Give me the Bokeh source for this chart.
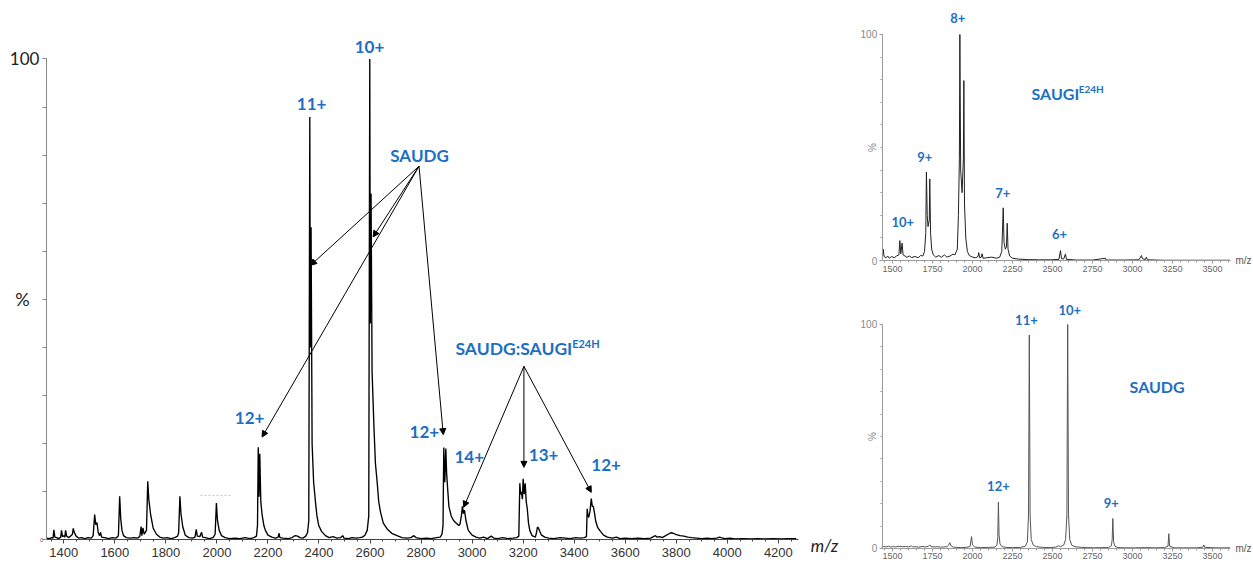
import math
from bokeh.plotting import figure
from bokeh.models import (Range1d, FixedTicker, LabelSet, Label, ColumnDataSource,
                          Arrow, NormalHead)
from bokeh.layouts import row, column
from bokeh.core.properties import value
from bokeh.embed import file_html
from bokeh.resources import INLINE

BLUE = "#1D6FC3"

# ---------------- main spectrum: SAUDG + SAUGI(E24H) mixture ----------------
main_mz = [1334, 1345, 1352, 1358, 1361, 1365, 1372, 1380, 1388, 1391, 1395, 1400, 1404, 1407, 1411,
           1420, 1428, 1434, 1437, 1441, 1448, 1458, 1470, 1482, 1495, 1508, 1515, 1521, 1525, 1530,
           1535, 1540, 1544, 1548, 1560, 1575, 1590, 1605, 1614, 1619, 1623, 1628, 1634, 1645, 1660,
           1675, 1690, 1698, 1703, 1706, 1710, 1715, 1724, 1729, 1733, 1740, 1750, 1763, 1776, 1790,
           1805, 1820, 1835, 1846, 1850, 1855, 1859, 1866, 1876, 1890, 1905, 1914, 1919, 1923, 1933,
           1940, 1944, 1955, 1970, 1985, 1993, 1998, 2002, 2009, 2018, 2032, 2050, 2070, 2090, 2110,
           2130, 2145, 2155, 2159, 2162, 2165, 2168, 2172, 2177, 2184, 2190, 2200, 2215, 2230, 2240,
           2243, 2247, 2260, 2280, 2295, 2302, 2308, 2316, 2325, 2338, 2348, 2355, 2360, 2364, 2366,
           2369, 2373, 2379, 2386, 2392, 2399, 2410, 2425, 2440, 2455, 2470, 2485, 2493, 2498, 2515,
           2530, 2545, 2560, 2570, 2580, 2589, 2595, 2599, 2601, 2604, 2608, 2615, 2621, 2628, 2634,
           2641, 2652, 2667, 2685, 2706, 2725, 2745, 2760, 2772, 2780, 2800, 2820, 2840, 2860, 2875,
           2882, 2886, 2889, 2893, 2897, 2900, 2905, 2909, 2918, 2928, 2938, 2948, 2952, 2958, 2962,
           2966, 2970, 2976, 2985, 3000, 3015, 3030, 3045, 3060, 3075, 3085, 3100, 3120, 3140, 3160,
           3175, 3183, 3187, 3190, 3193, 3197, 3200, 3204, 3208, 3212, 3216, 3221, 3226, 3235, 3248,
           3252, 3256, 3260, 3265, 3272, 3285, 3300, 3320, 3345, 3365, 3385, 3405, 3425, 3440, 3448,
           3451, 3454, 3457, 3462, 3467, 3471, 3475, 3480, 3484, 3492, 3503, 3515, 3530, 3550, 3565,
           3580, 3600, 3625, 3650, 3675, 3700, 3718, 3725, 3735, 3745, 3755, 3768, 3778, 3788, 3800,
           3815, 3830, 3845, 3860, 3880, 3900, 3920, 3940, 3958, 3970, 3975, 3990, 4010, 4030, 4060,
           4090, 4120, 4150, 4180, 4210, 4240, 4270]
main_pct = [0.4, 0.3, 0.5, 0.4, 2.1, 0.6, 0.5, 0.3, 0.6, 2.0, 0.7, 0.9, 0.6, 2.0, 0.8,
            0.5, 0.9, 1.2, 2.4, 1.6, 0.8, 0.4, 0.5, 0.3, 0.5, 0.4, 0.9, 5.3, 3.2, 3.6,
            1.5, 0.9, 1.6, 0.6, 0.5, 0.3, 0.5, 0.4, 0.9, 9.1, 4.5, 2.0, 0.9, 0.5, 0.4,
            0.5, 0.4, 0.8, 2.8, 0.9, 2.5, 1.2, 2.0, 12.2, 8.5, 5.4, 2.5, 1.2, 0.6, 0.4,
            0.5, 0.3, 0.5, 0.8, 1.5, 9.1, 5.5, 2.8, 1.0, 0.5, 0.4, 0.6, 2.2, 0.8, 0.7,
            1.6, 0.6, 0.5, 0.3, 0.5, 1.2, 7.7, 4.2, 2.0, 0.9, 0.5, 0.3, 0.4, 0.3, 0.5,
            0.3, 0.5, 0.8, 3.0, 19.3, 9.0, 17.9, 8.0, 5.3, 3.0, 2.0, 1.0, 0.6, 0.4, 0.6,
            1.4, 0.5, 0.4, 0.3, 0.5, 0.8, 0.9, 0.8, 0.5, 0.4, 0.8, 1.5, 4.0, 87.9, 40.0,
            65.0, 20.0, 12.0, 8.0, 5.0, 3.0, 1.8, 0.9, 0.5, 0.7, 0.4, 0.5, 0.9, 0.4, 0.3,
            0.5, 0.4, 0.5, 0.6, 1.0, 2.0, 5.0, 100.0, 45.0, 72.0, 35.0, 24.0, 16.0, 12.0, 8.0,
            5.8, 3.5, 2.3, 1.4, 0.9, 0.5, 0.4, 0.5, 0.9, 0.5, 0.3, 0.4, 0.3, 0.5, 0.6,
            1.2, 3.0, 19.2, 12.0, 19.0, 14.0, 10.0, 7.0, 5.0, 4.0, 3.5, 3.0, 3.2, 5.0, 7.0,
            5.5, 6.2, 4.0, 2.0, 1.0, 0.6, 0.4, 0.6, 0.3, 0.8, 0.4, 0.3, 0.5, 0.3, 0.4,
            0.5, 0.8, 11.8, 9.5, 10.0, 8.5, 12.7, 9.5, 11.8, 8.0, 6.6, 3.5, 2.0, 0.9, 0.6,
            1.5, 2.7, 2.5, 1.8, 1.0, 0.6, 0.4, 0.3, 0.5, 0.4, 0.3, 0.5, 0.4, 0.5, 0.7,
            6.5, 5.0, 4.7, 6.0, 8.6, 7.0, 7.0, 5.5, 4.0, 2.6, 1.8, 1.0, 0.6, 0.4, 0.6,
            0.3, 0.4, 0.3, 0.4, 0.3, 0.4, 0.9, 0.6, 0.7, 0.5, 0.8, 1.2, 1.5, 1.4, 1.1,
            0.9, 0.8, 0.6, 0.5, 0.4, 0.3, 0.4, 0.3, 0.4, 0.6, 0.5, 0.3, 0.4, 0.2, 0.3,
            0.2, 0.3, 0.2, 0.3, 0.2, 0.3, 0.3]

main_xticks = list(range(1400, 4201, 200))
main_label_text = ["10+", "11+", "SAUDG", "12+", "12+", "14+", "13+", "12+"]
main_label_mz = [2598, 2371, 2794, 2128, 2813, 2989, 3280, 3525]
main_label_pct = [102.4, 90.7, 79.9, 25.3, 22.4, 17.2, 17.7, 15.5]

complex_text = ["SAUDG:SAUGI"]
complex_mz = [2935]
complex_pct = [39.75]
complex_sup_text = ["E24H"]
complex_sup_mz = [3392]
complex_sup_pct = [40.9]

# arrows: SAUDG label -> SAUDG peaks ; complex label -> complex peaks
saudg_arrow_from = (2792, 77.7)
saudg_arrow_to_mz = [2367, 2612, 2177, 2887]
saudg_arrow_to_pct = [57.1, 63.0, 21.4, 21.9]
complex_arrow_from = (3203, 36.1)
complex_arrow_to_mz = [2967, 3203, 3467]
complex_arrow_to_pct = [6.8, 15.1, 9.9]

artifact_mz = [1936, 2060]
artifact_pct = [9.25, 9.25]

# ---------------- inset: SAUGI E24H alone ----------------
saugi_mz = [1437, 1442, 1447, 1460, 1470, 1480, 1495, 1510, 1525, 1540, 1546, 1552, 1560, 1566, 1578,
            1590, 1605, 1620, 1640, 1660, 1675, 1690, 1700, 1708, 1712, 1717, 1722, 1730, 1733, 1738,
            1745, 1755, 1770, 1790, 1805, 1825, 1840, 1860, 1878, 1890, 1905, 1912, 1918, 1921, 1926,
            1935, 1943, 1946, 1950, 1958, 1968, 1980, 2000, 2020, 2035, 2039, 2045, 2055, 2060, 2066,
            2090, 2120, 2150, 2170, 2183, 2192, 2197, 2205, 2212, 2217, 2222, 2232, 2250, 2290, 2350,
            2420, 2490, 2540, 2550, 2556, 2570, 2581, 2587, 2650, 2750, 2831, 2835, 2950, 3040, 3056,
            3062, 3080, 3087, 3093, 3200, 3400, 3610]
saugi_pct = [1.5, 5.0, 1.8, 1.2, 2.0, 1.0, 1.8, 1.2, 2.0, 2.5, 8.8, 3.0, 7.7, 2.5, 2.0,
             1.4, 2.0, 1.3, 1.8, 1.2, 2.2, 2.0, 4.0, 12.0, 39.1, 20.0, 15.0, 18.0, 36.1, 12.0,
             5.0, 2.5, 1.5, 2.2, 1.4, 2.5, 1.5, 2.0, 2.8, 2.5, 5.0, 20.0, 45.0, 100.0, 40.0,
             30.0, 45.0, 79.6, 25.0, 10.0, 4.0, 2.2, 1.5, 1.2, 1.8, 3.5, 1.2, 1.5, 3.0, 1.0,
             1.2, 1.5, 1.0, 1.5, 4.0, 23.3, 8.0, 5.0, 6.0, 16.5, 5.0, 2.0, 1.0, 0.6, 0.4,
             0.3, 0.3, 0.5, 4.4, 0.8, 0.7, 2.9, 0.5, 0.2, 0.2, 1.0, 0.2, 0.2, 0.3, 2.2,
             0.8, 0.4, 1.5, 0.3, 0.1, 0.1, 0.1]
saugi_label_text = ["8+", "9+", "10+", "7+", "6+"]
saugi_label_mz = [1908, 1702, 1564, 2189, 2544]
saugi_label_pct = [107.4, 46.0, 16.9, 29.8, 11.8]
saugi_name = ["SAUGI"]
saugi_name_mz = [2369]
saugi_name_pct = [73.7]
saugi_sup = ["E24H"]
saugi_sup_mz = [2664]
saugi_sup_pct = [76.0]

# ---------------- inset: SAUDG alone ----------------
saudg_mz = [1432, 1445, 1460, 1475, 1490, 1505, 1520, 1540, 1560, 1580, 1600, 1618, 1625, 1645, 1665,
            1685, 1705, 1725, 1733, 1740, 1760, 1780, 1800, 1820, 1840, 1850, 1858, 1866, 1880, 1900,
            1930, 1960, 1985, 1994, 2000, 2015, 2050, 2100, 2140, 2153, 2158, 2162, 2166, 2172, 2185,
            2210, 2250, 2300, 2330, 2343, 2350, 2355, 2360, 2367, 2380, 2400, 2440, 2480, 2520, 2539,
            2550, 2570, 2582, 2590, 2595, 2600, 2608, 2620, 2640, 2680, 2720, 2760, 2800, 2850, 2868,
            2873, 2877, 2882, 2890, 2910, 2960, 3020, 3080, 3140, 3200, 3222, 3227, 3232, 3260, 3320,
            3400, 3440, 3446, 3452, 3520, 3610]
saudg_pct = [0.6, 0.9, 0.7, 1.0, 0.6, 0.9, 0.7, 1.0, 0.8, 0.9, 0.7, 1.2, 0.7, 0.8, 0.6,
             0.9, 0.7, 1.0, 1.6, 0.9, 0.7, 0.8, 0.6, 0.7, 0.8, 1.4, 2.6, 1.2, 0.6, 0.5,
             0.4, 0.5, 0.9, 5.3, 1.6, 0.6, 0.4, 0.5, 0.6, 1.5, 5.0, 20.7, 6.0, 2.0, 0.8,
             0.5, 0.4, 0.5, 1.0, 3.0, 15.0, 95.3, 15.0, 4.0, 1.5, 0.8, 0.5, 0.4, 0.6, 1.2,
             0.8, 1.5, 4.0, 15.0, 100.0, 15.0, 4.0, 1.5, 0.8, 0.5, 0.4, 0.3, 0.4, 0.4, 1.2,
             4.0, 13.4, 3.0, 1.0, 0.4, 0.3, 0.3, 0.4, 0.3, 0.4, 1.0, 6.6, 1.0, 0.3, 0.3,
             0.3, 0.6, 1.6, 0.5, 0.3, 0.3]
saudg_label_text = ["10+", "11+", "12+", "9+"]
saudg_label_mz = [2608, 2337, 2162, 2867]
saudg_label_pct = [106.3, 101.9, 27.7, 20.3]
saudg_name = ["SAUDG"]
saudg_name_mz = [3154]
saudg_name_pct = [72.5]

inset_xticks = list(range(1500, 3501, 250))


def style_common(fig):
    fig.grid.visible = False
    fig.outline_line_color = None
    fig.background_fill_color = "white"
    fig.border_fill_color = "white"


def labelset(fig, xs, ys, texts, size, align="center", style="bold", color=BLUE):
    src = ColumnDataSource(dict(x=xs, y=ys, t=texts))
    ls = LabelSet(x="x", y="y", text="t", source=src, text_align=align,
                  text_baseline="middle", text_font=value("Lato"),
                  text_font_size=size, text_font_style=style, text_color=color)
    fig.add_layout(ls)


def style_axis(ax, color, tick_out, minor_out, standoff, font, size, label_color):
    ax.axis_line_color = color
    ax.major_tick_line_color = color
    ax.minor_tick_line_color = color
    ax.major_tick_in = 0
    ax.minor_tick_in = 0
    ax.major_tick_out = tick_out
    ax.minor_tick_out = minor_out
    ax.major_label_standoff = standoff
    ax.major_label_text_font = font
    ax.major_label_text_font_size = size
    ax.major_label_text_color = label_color


# ================= main figure =================
X0, X1 = 1332, 4280
p = figure(width=858, height=562, output_backend="svg", toolbar_location=None,
           x_range=Range1d(1151.96, 4514.1), y_range=Range1d(-4.677, 112.14), min_border=0)
style_common(p)
p.line(artifact_mz, artifact_pct, line_color="#c8c8c8", line_width=1, line_dash="2 2")
p.line(main_mz, main_pct, line_color="black", line_width=1.35)

ya = p.yaxis[0]
ya.fixed_location = X0
ya.bounds = (0, 100)
ya.ticker = FixedTicker(ticks=[0, 100], minor_ticks=list(range(0, 101, 10)))
ya.major_label_overrides = {0: "", 100: "100"}
style_axis(ya, "#888", 4, 4, 3, "Lato", "17px", "#222")

xa = p.xaxis[0]
xa.fixed_location = 0
xa.bounds = (X0, X1)
xa.ticker = FixedTicker(ticks=main_xticks, minor_ticks=list(range(1350, 4280, 50)))
style_axis(xa, "#444", 4, 2, 4, "Liberation Sans", "13px", "#333")

p.add_layout(Label(x=X0, y=50, x_offset=-24, text="%", text_align="center",
                   text_baseline="middle", text_font="Lato", text_font_size="18px",
                   text_color="#222"))
p.add_layout(Label(x=X0, y=0, x_offset=-3, text="0", text_align="right",
                   text_baseline="middle", text_font="Liberation Sans",
                   text_font_size="6px", text_color="#666"))
p.add_layout(Label(x=X1, y=-1.2, x_offset=12, text="m/z", text_align="left",
                   text_baseline="middle", text_font="Lato", text_font_size="17px",
                   text_font_style="italic", text_color="#222"))

labelset(p, main_label_mz, main_label_pct, main_label_text, "17px")
labelset(p, complex_mz, complex_pct, complex_text, "17.5px", align="left")
labelset(p, complex_sup_mz, complex_sup_pct, complex_sup_text, "11px", align="left")

arr_src = ColumnDataSource(dict(
    x0=[saudg_arrow_from[0]] * len(saudg_arrow_to_mz) + [complex_arrow_from[0]] * len(complex_arrow_to_mz),
    y0=[saudg_arrow_from[1]] * len(saudg_arrow_to_mz) + [complex_arrow_from[1]] * len(complex_arrow_to_mz),
    x1=saudg_arrow_to_mz + complex_arrow_to_mz,
    y1=saudg_arrow_to_pct + complex_arrow_to_pct))
p.add_layout(Arrow(x_start="x0", y_start="y0", x_end="x1", y_end="y1", source=arr_src,
                   line_color="black", line_width=1,
                   end=NormalHead(size=6, fill_color="black", line_color="black", line_width=1)))


# ================= insets =================
IX0, IX1 = 1436, 3612


def make_inset(height, y0, y1, mz, pct, line_color):
    f = figure(width=394, height=height, output_backend="svg", toolbar_location=None,
               x_range=Range1d(1287.5, 3750.0), y_range=Range1d(y0, y1), min_border=0)
    style_common(f)
    f.line(mz, pct, line_color=line_color, line_width=1)
    fx, fy = f.xaxis[0], f.yaxis[0]
    fx.fixed_location = 0
    fx.bounds = (IX0, IX1)
    fy.fixed_location = IX0
    fy.bounds = (0, 100)
    style_axis(fx, "#9a9a9a", 3, 2, 2, "Liberation Sans", "9px", "#666")
    style_axis(fy, "#9a9a9a", 3, 2, 2, "Liberation Sans", "10px", "#888")
    fx.ticker = FixedTicker(ticks=inset_xticks, minor_ticks=list(range(1450, 3612, 50)))
    fy.ticker = FixedTicker(ticks=[0, 100], minor_ticks=list(range(0, 101, 10)))
    f.add_layout(Label(x=IX0, y=50, x_offset=-10, text="%", angle=math.pi / 2,
                       text_align="center", text_baseline="middle", text_font="Liberation Sans",
                       text_font_size="10px", text_color="#888"))
    f.add_layout(Label(x=IX1, y=0, x_offset=5, text="m/z", text_align="left",
                       text_baseline="middle", text_font="Liberation Sans",
                       text_font_size="10px", text_color="#555"))
    return f


top = make_inset(277, -7.52, 115.04, saugi_mz, saugi_pct, "#222")
labelset(top, saugi_label_mz, saugi_label_pct, saugi_label_text, "13px")
labelset(top, saugi_name_mz, saugi_name_pct, saugi_name, "16px", align="left")
labelset(top, saugi_sup_mz, saugi_sup_pct, saugi_sup, "10px", align="left")

bot = make_inset(285, -6.25, 120.98, saudg_mz, saudg_pct, "#555")
labelset(bot, saudg_label_mz, saudg_label_pct, saudg_label_text, "13px")
labelset(bot, saudg_name_mz, saudg_name_pct, saudg_name, "16px")

layout = row(p, column(top, bot))
open("out.html", "w").write(file_html(layout, INLINE))
